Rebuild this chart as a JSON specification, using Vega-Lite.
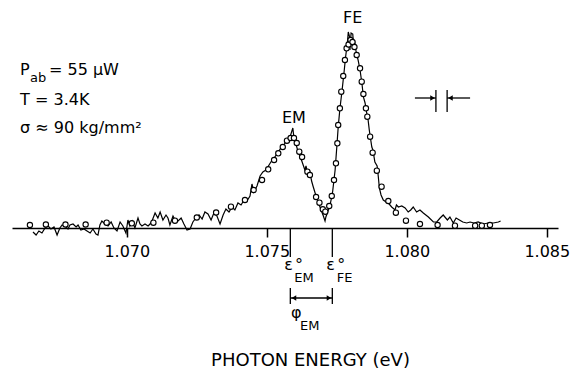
{
  "$schema": "https://vega.github.io/schema/vega-lite/v6.json",
  "width": 546,
  "height": 228,
  "autosize": "none",
  "padding": {"left": 12, "top": 0, "right": 16, "bottom": 145},
  "background": "white",
  "config": {"view": {"stroke": null}, "text": {"font": "DejaVu Sans", "color": "black"}},
  "datasets": {
    "spec": [
      {"e":1.06665,"i":-4},{"e":1.06676,"i":-7},{"e":1.06686,"i":-3},{"e":1.06697,"i":-5},{"e":1.06708,"i":0},{"e":1.06719,"i":2},{"e":1.06729,"i":-1},{"e":1.0674,"i":1},{"e":1.06751,"i":-7},{"e":1.06761,"i":0},{"e":1.06769,"i":3},{"e":1.06779,"i":2},{"e":1.0679,"i":-1},{"e":1.06797,"i":3},{"e":1.06808,"i":4},{"e":1.06819,"i":1},{"e":1.06826,"i":3},{"e":1.06836,"i":-2},{"e":1.06847,"i":-1},{"e":1.06858,"i":-3},{"e":1.06869,"i":-5},{"e":1.06879,"i":-1},{"e":1.0689,"i":-6},{"e":1.06897,"i":-7},{"e":1.06904,"i":3},{"e":1.06911,"i":7},{"e":1.06922,"i":4},{"e":1.06933,"i":2},{"e":1.06944,"i":6},{"e":1.06954,"i":0},{"e":1.06965,"i":-3},{"e":1.06976,"i":6},{"e":1.06986,"i":2},{"e":1.06997,"i":-5},{"e":1.07004,"i":8},{"e":1.07011,"i":2},{"e":1.07019,"i":7},{"e":1.07029,"i":0},{"e":1.0704,"i":10},{"e":1.07047,"i":4},{"e":1.07054,"i":2},{"e":1.07065,"i":4},{"e":1.07076,"i":2},{"e":1.07083,"i":4},{"e":1.0709,"i":7},{"e":1.07101,"i":15},{"e":1.07111,"i":10},{"e":1.07119,"i":16},{"e":1.07129,"i":8},{"e":1.0714,"i":13},{"e":1.07147,"i":10},{"e":1.07154,"i":3},{"e":1.07165,"i":12},{"e":1.07176,"i":6},{"e":1.07183,"i":7},{"e":1.07194,"i":10},{"e":1.07204,"i":4},{"e":1.07215,"i":-2},{"e":1.07226,"i":-1},{"e":1.07236,"i":6},{"e":1.07247,"i":10},{"e":1.07258,"i":13},{"e":1.07269,"i":9},{"e":1.07279,"i":16},{"e":1.0729,"i":14},{"e":1.07301,"i":8},{"e":1.07311,"i":15},{"e":1.07322,"i":12},{"e":1.07333,"i":4},{"e":1.07344,"i":13},{"e":1.07354,"i":19},{"e":1.07365,"i":16},{"e":1.07376,"i":21},{"e":1.07386,"i":18},{"e":1.07397,"i":25},{"e":1.07408,"i":23},{"e":1.07419,"i":28},{"e":1.07429,"i":27},{"e":1.0744,"i":32},{"e":1.07447,"i":44},{"e":1.07454,"i":36},{"e":1.07465,"i":42},{"e":1.07476,"i":52},{"e":1.07486,"i":56},{"e":1.07497,"i":58},{"e":1.07508,"i":63},{"e":1.07519,"i":68},{"e":1.07529,"i":71},{"e":1.0754,"i":76},{"e":1.07551,"i":80},{"e":1.07561,"i":83},{"e":1.07572,"i":88},{"e":1.07583,"i":91},{"e":1.07593,"i":100},{"e":1.07597,"i":90},{"e":1.07601,"i":87},{"e":1.07611,"i":77},{"e":1.07625,"i":67},{"e":1.07636,"i":58},{"e":1.0764,"i":62},{"e":1.07647,"i":53},{"e":1.07654,"i":56},{"e":1.0766,"i":47},{"e":1.07665,"i":42},{"e":1.07678,"i":30},{"e":1.0769,"i":21},{"e":1.07702,"i":12},{"e":1.07708,"i":7},{"e":1.07711,"i":11},{"e":1.07716,"i":15},{"e":1.07726,"i":23},{"e":1.07735,"i":36},{"e":1.07744,"i":58},{"e":1.0775,"i":81},{"e":1.07755,"i":101},{"e":1.07761,"i":119},{"e":1.07769,"i":138},{"e":1.07776,"i":156},{"e":1.07781,"i":170},{"e":1.07788,"i":186},{"e":1.07791,"i":196},{"e":1.07795,"i":192},{"e":1.07797,"i":178},{"e":1.07801,"i":195},{"e":1.07807,"i":194},{"e":1.0781,"i":183},{"e":1.07813,"i":188},{"e":1.07819,"i":176},{"e":1.07826,"i":168},{"e":1.07833,"i":158},{"e":1.0784,"i":144},{"e":1.07845,"i":131},{"e":1.07851,"i":125},{"e":1.07856,"i":116},{"e":1.07861,"i":110},{"e":1.07866,"i":98},{"e":1.07875,"i":81},{"e":1.07879,"i":78},{"e":1.07886,"i":66},{"e":1.07894,"i":62},{"e":1.07898,"i":52},{"e":1.07902,"i":40},{"e":1.07908,"i":33},{"e":1.07916,"i":28},{"e":1.07926,"i":26},{"e":1.07934,"i":25},{"e":1.07946,"i":21},{"e":1.07958,"i":18},{"e":1.07963,"i":23},{"e":1.0797,"i":21},{"e":1.07982,"i":22},{"e":1.07994,"i":20},{"e":1.08005,"i":16},{"e":1.08014,"i":18},{"e":1.08023,"i":21},{"e":1.08035,"i":16},{"e":1.08047,"i":18},{"e":1.08059,"i":15},{"e":1.08077,"i":11},{"e":1.08095,"i":6},{"e":1.08107,"i":6},{"e":1.08119,"i":10},{"e":1.0813,"i":13},{"e":1.08145,"i":8},{"e":1.08154,"i":11},{"e":1.08166,"i":5},{"e":1.08176,"i":10},{"e":1.08188,"i":8},{"e":1.082,"i":6},{"e":1.08214,"i":5},{"e":1.08226,"i":6},{"e":1.0824,"i":5},{"e":1.08255,"i":6},{"e":1.08273,"i":4},{"e":1.08291,"i":5},{"e":1.08309,"i":5},{"e":1.08327,"i":6},{"e":1.08335,"i":7}
    ],
    "fit": [
      {"e":1.06654,"i":3},{"e":1.06711,"i":3.5},{"e":1.06781,"i":3.5},{"e":1.06853,"i":3.5},{"e":1.06928,"i":5.3},{"e":1.07018,"i":4.7},{"e":1.07095,"i":5.3},{"e":1.07172,"i":7.3},{"e":1.0725,"i":10.5},{"e":1.07319,"i":15.5},{"e":1.07372,"i":21.3},{"e":1.07422,"i":28},{"e":1.07453,"i":38},{"e":1.07483,"i":48},{"e":1.07505,"i":58.7},{"e":1.07526,"i":68},{"e":1.07541,"i":74.7},{"e":1.07557,"i":81},{"e":1.07572,"i":87.3},{"e":1.07585,"i":90},{"e":1.07597,"i":90},{"e":1.07607,"i":85},{"e":1.07616,"i":76.3},{"e":1.07626,"i":71},{"e":1.07645,"i":56.3},{"e":1.07654,"i":53},{"e":1.07676,"i":31},{"e":1.07688,"i":25.3},{"e":1.077,"i":18.7},{"e":1.07709,"i":16.3},{"e":1.07723,"i":22},{"e":1.07732,"i":32},{"e":1.0774,"i":48},{"e":1.07747,"i":64.7},{"e":1.07752,"i":84.7},{"e":1.07755,"i":103},{"e":1.07761,"i":119.7},{"e":1.07766,"i":136.3},{"e":1.07773,"i":152},{"e":1.07779,"i":168},{"e":1.07785,"i":179.7},{"e":1.07792,"i":183.5},{"e":1.07799,"i":188},{"e":1.07806,"i":186},{"e":1.07813,"i":181},{"e":1.07821,"i":173},{"e":1.07833,"i":159.7},{"e":1.07839,"i":146.3},{"e":1.07845,"i":134},{"e":1.07854,"i":119.7},{"e":1.07859,"i":111.3},{"e":1.07869,"i":91.3},{"e":1.07878,"i":75.3},{"e":1.07893,"i":57.3},{"e":1.0791,"i":41.3},{"e":1.07934,"i":27},{"e":1.07961,"i":15.3},{"e":1.07997,"i":7.3},{"e":1.08047,"i":4},{"e":1.0811,"i":3},{"e":1.08172,"i":2.3},{"e":1.08244,"i":2.3},{"e":1.08268,"i":2.3},{"e":1.08297,"i":3}
    ],
    "segs": [
      {"e":1.07584,"e2":1.07584,"i":0,"i2":-29},
      {"e":1.07734,"e2":1.07734,"i":0,"i2":-29},
      {"e":1.07584,"e2":1.07584,"i":-60,"i2":-76},
      {"e":1.07734,"e2":1.07734,"i":-60,"i2":-76},
      {"e":1.07584,"e2":1.07734,"i":-70,"i2":-70},
      {"e":1.08104,"e2":1.08104,"i":138,"i2":116},
      {"e":1.08144,"e2":1.08144,"i":138,"i2":116},
      {"e":1.08029,"e2":1.08104,"i":130,"i2":130},
      {"e":1.08144,"e2":1.08226,"i":130,"i2":130}
    ],
    "heads": [
      {"e":1.07597,"i":-70,"d":"triangle-left"},
      {"e":1.07722,"i":-70,"d":"triangle-right"},
      {"e":1.08092,"i":130,"d":"triangle-right"},
      {"e":1.08156,"i":130,"d":"triangle-left"}
    ],
    "labA": [
      {"e":1.06619,"i":153,"t":"P"},
      {"e":1.06722,"i":153,"t":"= 55 μW"},
      {"e":1.06619,"i":123,"t":"T = 3.4K"},
      {"e":1.06619,"i":95,"t":"σ ≈ 90 kg/mm²"},
      {"e":1.07554,"i":105,"t":"EM"},
      {"e":1.07772,"i":205,"t":"FE"},
      {"e":1.07562,"i":-42,"t":"ε"},
      {"e":1.07712,"i":-42,"t":"ε"},
      {"e":1.07601,"i":-42,"t":"°"},
      {"e":1.07752,"i":-42,"t":"°"},
      {"e":1.07586,"i":-90,"t":"φ"}
    ],
    "labB": [
      {"e":1.06654,"i":146,"t":"ab"},
      {"e":1.07598,"i":-54,"t":"EM"},
      {"e":1.07750,"i":-54,"t":"FE"},
      {"e":1.07619,"i":-102,"t":"EM"}
    ]
  },
  "encoding": {
    "x": {
      "field": "e",
      "type": "quantitative",
      "scale": {"domain": [1.0659, 1.0854], "nice": false, "zero": false},
      "axis": {
        "values": [1.07, 1.075, 1.08, 1.085],
        "format": ".3f",
        "grid": false,
        "tickSize": 9,
        "tickWidth": 1.5,
        "tickColor": "black",
        "domainColor": "black",
        "domainWidth": 1.5,
        "labelFont": "DejaVu Sans",
        "labelFontSize": 16,
        "labelColor": "black",
        "labelPadding": 6,
        "title": "PHOTON ENERGY (eV)",
        "titleFont": "DejaVu Sans",
        "titleFontSize": 18,
        "titleFontWeight": "normal",
        "titleColor": "black",
        "titleX": 298,
        "titleY": 137,
        "titleAlign": "center",
        "titleBaseline": "alphabetic"
      }
    },
    "y": {
      "field": "i",
      "type": "quantitative",
      "scale": {"domain": [0, 228], "nice": false, "zero": false},
      "axis": null
    }
  },
  "layer": [
    {
      "data": {"name": "spec"},
      "mark": {"type": "line", "color": "black", "strokeWidth": 1.2},
      "encoding": {}
    },
    {
      "data": {"name": "fit"},
      "mark": {"type": "point", "shape": "circle", "fill": "white", "stroke": "black", "fillOpacity": 1, "opacity": 1, "strokeWidth": 1.1, "size": 28},
      "encoding": {}
    },
    {
      "data": {"name": "segs"},
      "mark": {"type": "rule", "color": "black", "strokeWidth": 1.3},
      "encoding": {
        "x2": {"field": "e2"},
        "y2": {"field": "i2"}
      }
    },
    {
      "data": {"name": "heads"},
      "mark": {"type": "point", "filled": true, "color": "black", "size": 28, "opacity": 1},
      "encoding": {
        "shape": {"field": "d", "type": "nominal", "scale": null}
      }
    },
    {
      "data": {"name": "labA"},
      "mark": {"type": "text", "fontSize": 16, "align": "left", "baseline": "alphabetic", "font": "DejaVu Sans", "color": "black"},
      "encoding": {"text": {"field": "t", "type": "nominal"}}
    },
    {
      "data": {"name": "labB"},
      "mark": {"type": "text", "fontSize": 13, "align": "left", "baseline": "alphabetic", "font": "DejaVu Sans", "color": "black"},
      "encoding": {"text": {"field": "t", "type": "nominal"}}
    }
  ]
}
